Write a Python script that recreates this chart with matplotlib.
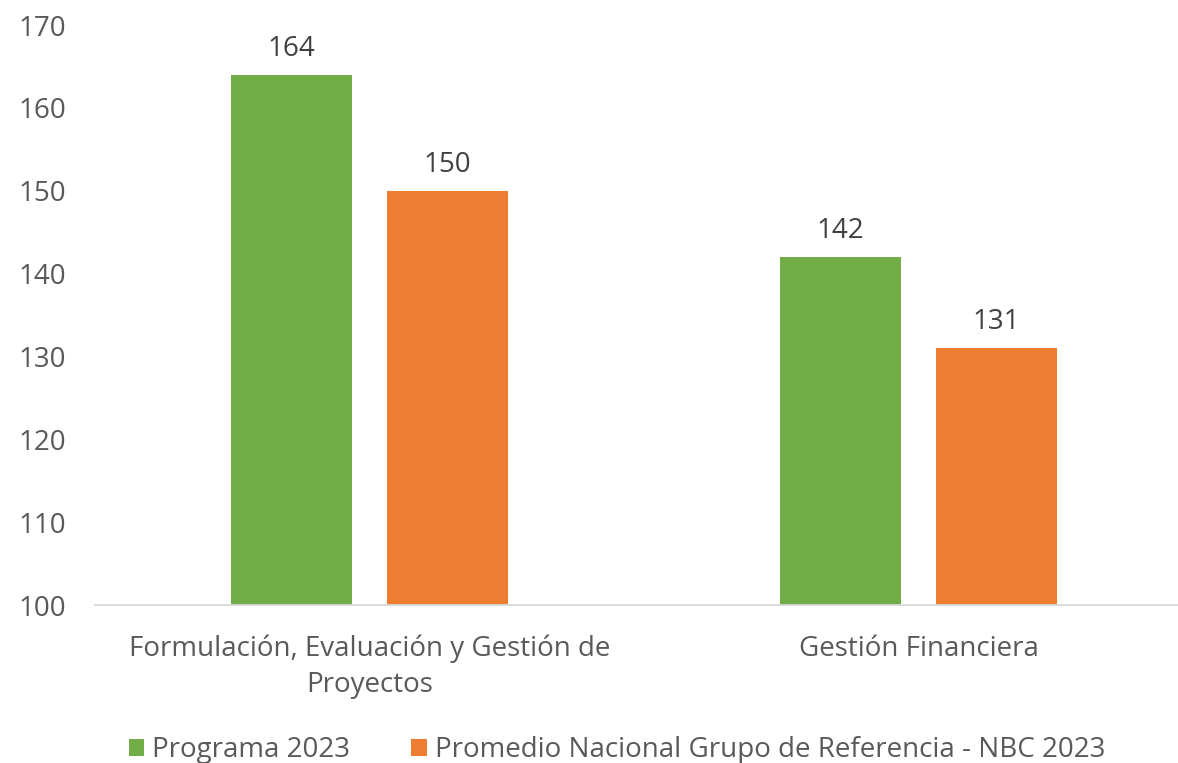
import matplotlib.pyplot as plt
import numpy as np

# datos
categorias = ["Formulación, Evaluación y Gestión de\nProyectos", "Gestión Financiera"]
programa = [164, 142]
promedio = [150, 131]
series = ["Programa 2023", "Promedio Nacional Grupo de Referencia - NBC 2023"]
colores = ["#70AD47", "#ED7D31"]

plt.rcParams['font.family'] = ['Open Sans', 'DejaVu Sans']
gris = "#595959"
tam = 20

fig = plt.figure(figsize=(11.78, 7.63), dpi=100)
ax = fig.add_axes([95 / 1178, 1 - 605 / 763, 1098 / 1178, 580 / 763])

x = np.arange(len(categorias))
ancho = 0.222
desp = 0.142
b1 = ax.bar(x - desp, programa, ancho, bottom=0, color=colores[0], label=series[0], zorder=2)
b2 = ax.bar(x + desp, promedio, ancho, bottom=0, color=colores[1], label=series[1], zorder=2)

for barras in (b1, b2):
    for r in barras:
        h = r.get_height()
        ax.annotate(f"{h:.0f}", (r.get_x() + r.get_width() / 2, h), xytext=(0, 18.5),
                    textcoords="offset points", ha="center", va="center",
                    fontsize=tam, color="#404040")

ax.set_xlim(-0.5, 1.5)
ax.set_ylim(100, 170)
ax.set_yticks(range(100, 171, 10))
ax.set_xticks(x)
ax.set_xticklabels(categorias, fontsize=tam, color=gris, linespacing=1.38)
ax.tick_params(axis="y", labelsize=tam, labelcolor=gris, length=0, pad=21)
ax.tick_params(axis="x", length=0, pad=21.5)
for s in ["top", "right", "left"]:
    ax.spines[s].set_visible(False)
ax.spines["bottom"].set_color("#D9D9D9")
ax.spines["bottom"].set_linewidth(1.3)
ax.patch.set_alpha(0)

fig.legend(handles=[b1, b2], labels=series, loc="center", bbox_to_anchor=(617 / 1178, 1 - 750 / 763),
           ncol=2, frameon=False, fontsize=tam, labelcolor=gris, handlelength=0.55, handleheight=0.55,
           handletextpad=0.3, columnspacing=2.2)

fig.savefig("out.png", dpi=100, facecolor="white")
